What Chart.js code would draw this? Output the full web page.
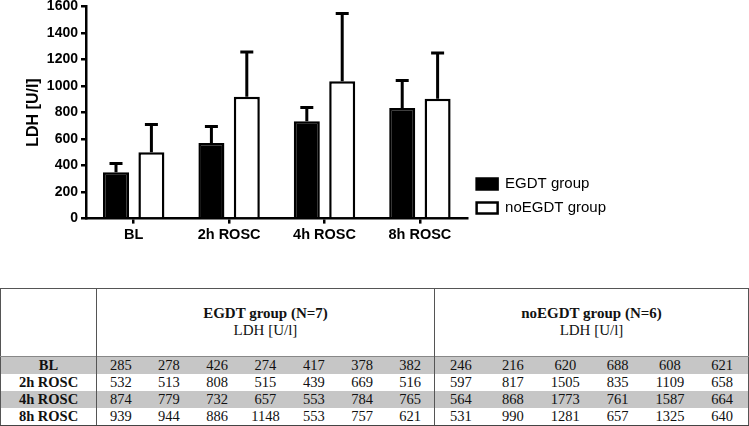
<!DOCTYPE html>
<html><head><meta charset="utf-8">
<script src="https://cdn.jsdelivr.net/npm/chart.js@4.4.1/dist/chart.umd.min.js"></script>
<style>
html,body{margin:0;padding:0;background:#fff;width:749px;height:426px;overflow:hidden;}
#wrap{position:absolute;left:0;top:0;width:749px;height:247px;}
#tbl{position:absolute;left:0;top:287.5px;width:748px;border-collapse:collapse;table-layout:fixed;
  font-family:"Liberation Serif","Times New Roman",serif;font-size:14.5px;color:#111;
  border:1.5px solid #555;border-bottom:2px solid #444;}
#tbl td{padding:0;text-align:center;white-space:nowrap;overflow:hidden;}
#tbl tr.h td{height:67px;vertical-align:middle;line-height:16.7px;font-size:15px;}
#tbl tr.d td{height:17px;line-height:17px;}
#tbl tr.g td{background:#c6c6c6;}
#tbl tr.first td{border-top:1px solid #888;}
#tbl td.lab{font-weight:bold;}
#tbl td.dv{border-left:1.5px solid #555;}
</style></head>
<body>
<div id="wrap"><canvas id="c"></canvas></div>
<table id="tbl"></table>
<script>
// ---- chart data ----
const categories = ['BL', '2h ROSC', '4h ROSC', '8h ROSC'];
const egdtMean   = [349, 570, 735, 835];
const egdtSD     = [67, 125, 103, 206];
const noegdtMean = [500, 920, 1036, 904];
const noegdtSD   = [210, 337, 512, 345];
const seriesNames = ['EGDT group', 'noEGDT group'];
const yTitle = 'LDH [U/l]';

// ---- table data ----
const rowLabels = ['BL', '2h ROSC', '4h ROSC', '8h ROSC'];
const egdtBL = [285, 278, 426, 274, 417, 378, 382];
const egdt2h = [532, 513, 808, 515, 439, 669, 516];
const egdt4h = [874, 779, 732, 657, 553, 784, 765];
const egdt8h = [939, 944, 886, 1148, 553, 757, 621];
const noegdtBL = [246, 216, 620, 688, 608, 621];
const noegdt2h = [597, 817, 1505, 835, 1109, 658];
const noegdt4h = [564, 868, 1773, 761, 1587, 664];
const noegdt8h = [531, 990, 1281, 657, 1325, 640];
const headEGDT = 'EGDT group (N=7)';
const headNoEGDT = 'noEGDT group (N=6)';
const headUnit = 'LDH [U/l]';

// ---- build table ----
(function(){
  const egdtRows = [egdtBL, egdt2h, egdt4h, egdt8h];
  const noRows = [noegdtBL, noegdt2h, noegdt4h, noegdt8h];
  const t = document.getElementById('tbl');
  let cg = '<colgroup><col style="width:96px">';
  for (let i = 0; i < egdtBL.length; i++) cg += '<col style="width:' + (338 / egdtBL.length) + 'px">';
  for (let i = 0; i < noegdtBL.length; i++) cg += '<col style="width:' + (314 / noegdtBL.length) + 'px">';
  cg += '</colgroup>';
  let html = cg;
  html += '<tr class="h"><td></td><td class="dv" colspan="' + egdtBL.length + '"><b>' + headEGDT + '</b><br>' + headUnit +
          '</td><td class="dv" colspan="' + noegdtBL.length + '"><b>' + headNoEGDT + '</b><br>' + headUnit + '</td></tr>';
  rowLabels.forEach((lab, r) => {
    let cls = 'd' + (r % 2 === 0 ? ' g' : '') + (r === 0 ? ' first' : '');
    html += '<tr class="' + cls + '"><td class="lab">' + lab + '</td>';
    egdtRows[r].forEach((v, i) => { html += '<td' + (i === 0 ? ' class="dv"' : '') + '>' + v + '</td>'; });
    noRows[r].forEach((v, i) => { html += '<td' + (i === 0 ? ' class="dv"' : '') + '>' + v + '</td>'; });
    html += '</tr>';
  });
  t.innerHTML = html;
})();

// ---- error bar plugin ----
const errorBars = {
  id: 'errorBars',
  afterDatasetsDraw(chart) {
    const ctx = chart.ctx, y = chart.scales.y;
    chart.data.datasets.forEach((ds, di) => {
      const meta = chart.getDatasetMeta(di);
      meta.data.forEach((bar, i) => {
        const base = y.getPixelForValue(ds.data[i]);
        const top = y.getPixelForValue(ds.data[i] + ds.sd[i]);
        ctx.save();
        ctx.strokeStyle = '#000';
        ctx.lineWidth = 3;
        ctx.beginPath();
        ctx.moveTo(bar.x, base);
        ctx.lineTo(bar.x, top);
        ctx.moveTo(bar.x - 6.5, top);
        ctx.lineTo(bar.x + 6.5, top);
        ctx.stroke();
        ctx.restore();
      });
    });
  }
};

const sans = '"Liberation Sans", Arial, sans-serif';
new Chart(document.getElementById('c'), {
  type: 'bar',
  data: {
    labels: categories,
    datasets: [
      { label: seriesNames[0], data: egdtMean, sd: egdtSD, backgroundColor: '#000', borderColor: '#000',
        borderWidth: 2.5, categoryPercentage: 0.742, barPercentage: 0.735 },
      { label: seriesNames[1], data: noegdtMean, sd: noegdtSD, backgroundColor: '#fff', borderColor: '#000',
        borderWidth: 2.5, categoryPercentage: 0.742, barPercentage: 0.735 }
    ]
  },
  options: {
    responsive: true, maintainAspectRatio: false, animation: false,
    layout: { padding: { left: 0, right: 133, top: 0, bottom: 0 } },
    plugins: {
      tooltip: { enabled: false },
      legend: {
        position: 'right', align: 'start', fullSize: true,
        title: { display: true, text: '', font: { size: 10, lineHeight: 1 }, padding: { top: 157.5, bottom: 0 } },
        labels: { boxWidth: 21, boxHeight: 11, padding: 9, color: '#000', font: { family: sans, size: 15 } }
      }
    },
    scales: {
      x: {
        grid: { offset: false, drawOnChartArea: false, color: '#000', lineWidth: 2.5, tickLength: 5 },
        border: { color: '#000', width: 2.5 },
        ticks: { color: '#000', padding: 3, maxRotation: 0, font: { family: sans, size: 14.5, weight: 'bold' } }
      },
      y: {
        min: 0, max: 1600,
        grid: { drawOnChartArea: false, color: '#000', lineWidth: 2.5, tickLength: 5 },
        border: { color: '#000', width: 2.5 },
        ticks: { stepSize: 200, color: '#000', padding: 3, format: { useGrouping: false },
                 font: { family: sans, size: 14, weight: 'bold', lineHeight: 1 } },
        title: { display: true, text: yTitle, color: '#000', font: { family: sans, size: 16, weight: 'bold' }, padding: { top: 24, bottom: 0 } },
        afterFit: s => { s.width = 86; s.paddingTop = 6.5; }
      }
    }
  },
  plugins: [errorBars]
});
</script>
</body></html>
